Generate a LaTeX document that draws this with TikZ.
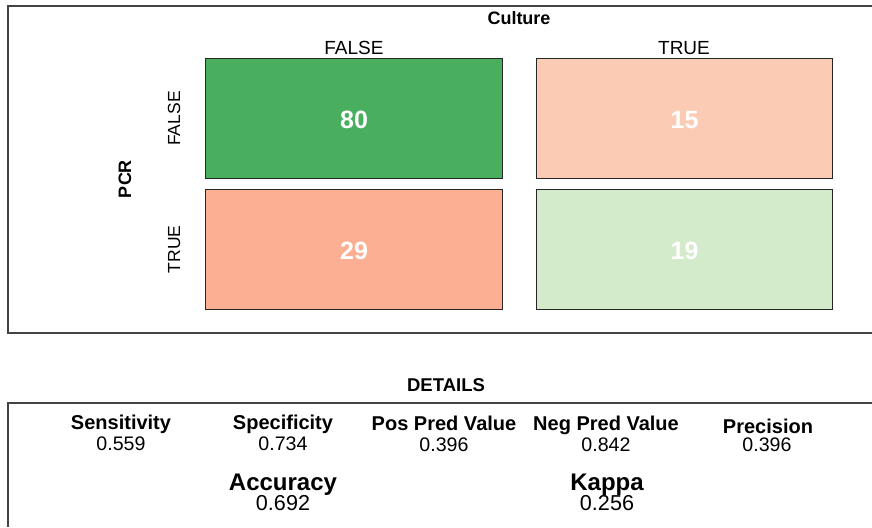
\documentclass[tikz,border=0pt]{standalone}
\usepackage{fontspec}
\setmainfont{Liberation Sans}
\definecolor{cgreen}{HTML}{4AAE5F}
\definecolor{clgreen}{HTML}{D3EBCB}
\definecolor{csalmon}{HTML}{FCAF92}
\definecolor{clsalmon}{HTML}{FCCBB4}
\definecolor{frame}{HTML}{444444}
\definecolor{cellborder}{HTML}{262626}
\newcommand{\fs}[1]{\fontsize{#1}{#1}\selectfont}
\tikzset{
  cellbox/.style={draw=cellborder, line width=1.6pt, minimum height=120pt, outer sep=0pt, inner sep=0pt},
  cellnum/.style={anchor=base, text=white, font=\fs{25}\bfseries},
  collab/.style={anchor=base, font=\fs{19}},
  rowlab/.style={anchor=base, rotate=90, font=\fs{17.5}},
  title/.style={anchor=base, font=\fs{18.5}\bfseries},
  mname/.style={anchor=base, font=\fs{20}\bfseries},
  mval/.style={anchor=base, font=\fs{19.6}},
  bname/.style={anchor=base, font=\fs{24}\bfseries},
  bval/.style={anchor=base, font=\fs{21.6}},
  framel/.style={draw=frame, line width=1.5pt}
}
\begin{document}
\begin{tikzpicture}[x=1pt, y=-1pt]
\useasboundingbox (0,0) rectangle (872,527);
% frames
\draw[framel] (872,6) -- (8,6) -- (8,333) -- (872,333);
\draw[framel] (872,403) -- (8,403) -- (8,527);
% cells
\node[cellbox, fill=cgreen, minimum width=297pt] (c11) at (354,118.5) {};
\node[cellbox, fill=clsalmon, minimum width=296pt] (c12) at (684.5,118.5) {};
\node[cellbox, fill=csalmon, minimum width=297pt] (c21) at (354,249.5) {};
\node[cellbox, fill=clgreen, minimum width=296pt] (c22) at (684.5,249.5) {};
\node[cellnum] (n11) at (354,128) {80};
\node[cellnum] (n12) at (684.5,128) {15};
\node[cellnum] (n21) at (354,259) {29};
\node[cellnum] (n22) at (684.5,259) {19};
% labels
\node[title, font=\fs{18}\bfseries] (culture) at (519,25) {Culture};
\node[collab] (cf) at (354,55) {FALSE};
\node[collab] (ct) at (684,55) {TRUE};
\node[rowlab] (rf) at (180,118.5) {FALSE};
\node[rowlab] (rt) at (180,249.5) {TRUE};
\node[anchor=base, rotate=90, font=\fs{18}\bfseries] (pcr) at (131,179) {PCR};
% details
\node[title] (details) at (446,391) {DETAILS};
\node[mname] (m1) at (121,429) {Sensitivity};
\node[mval] (v1) at (121,450) {0.559};
\node[mname] (m2) at (283,429) {Specificity};
\node[mval] (v2) at (283,450) {0.734};
\node[mname] (m3) at (444,430) {Pos Pred Value};
\node[mval] (v3) at (444,451) {0.396};
\node[mname] (m4) at (606,430) {Neg Pred Value};
\node[mval] (v4) at (606,451) {0.842};
\node[mname] (m5) at (768,433) {Precision};
\node[mval] (v5) at (767,451) {0.396};
\node[bname] (b1) at (283,490) {Accuracy};
\node[bval] (bv1) at (283,510) {0.692};
\node[bname] (b2) at (607,490) {Kappa};
\node[bval] (bv2) at (607,510) {0.256};
\end{tikzpicture}
\end{document}
